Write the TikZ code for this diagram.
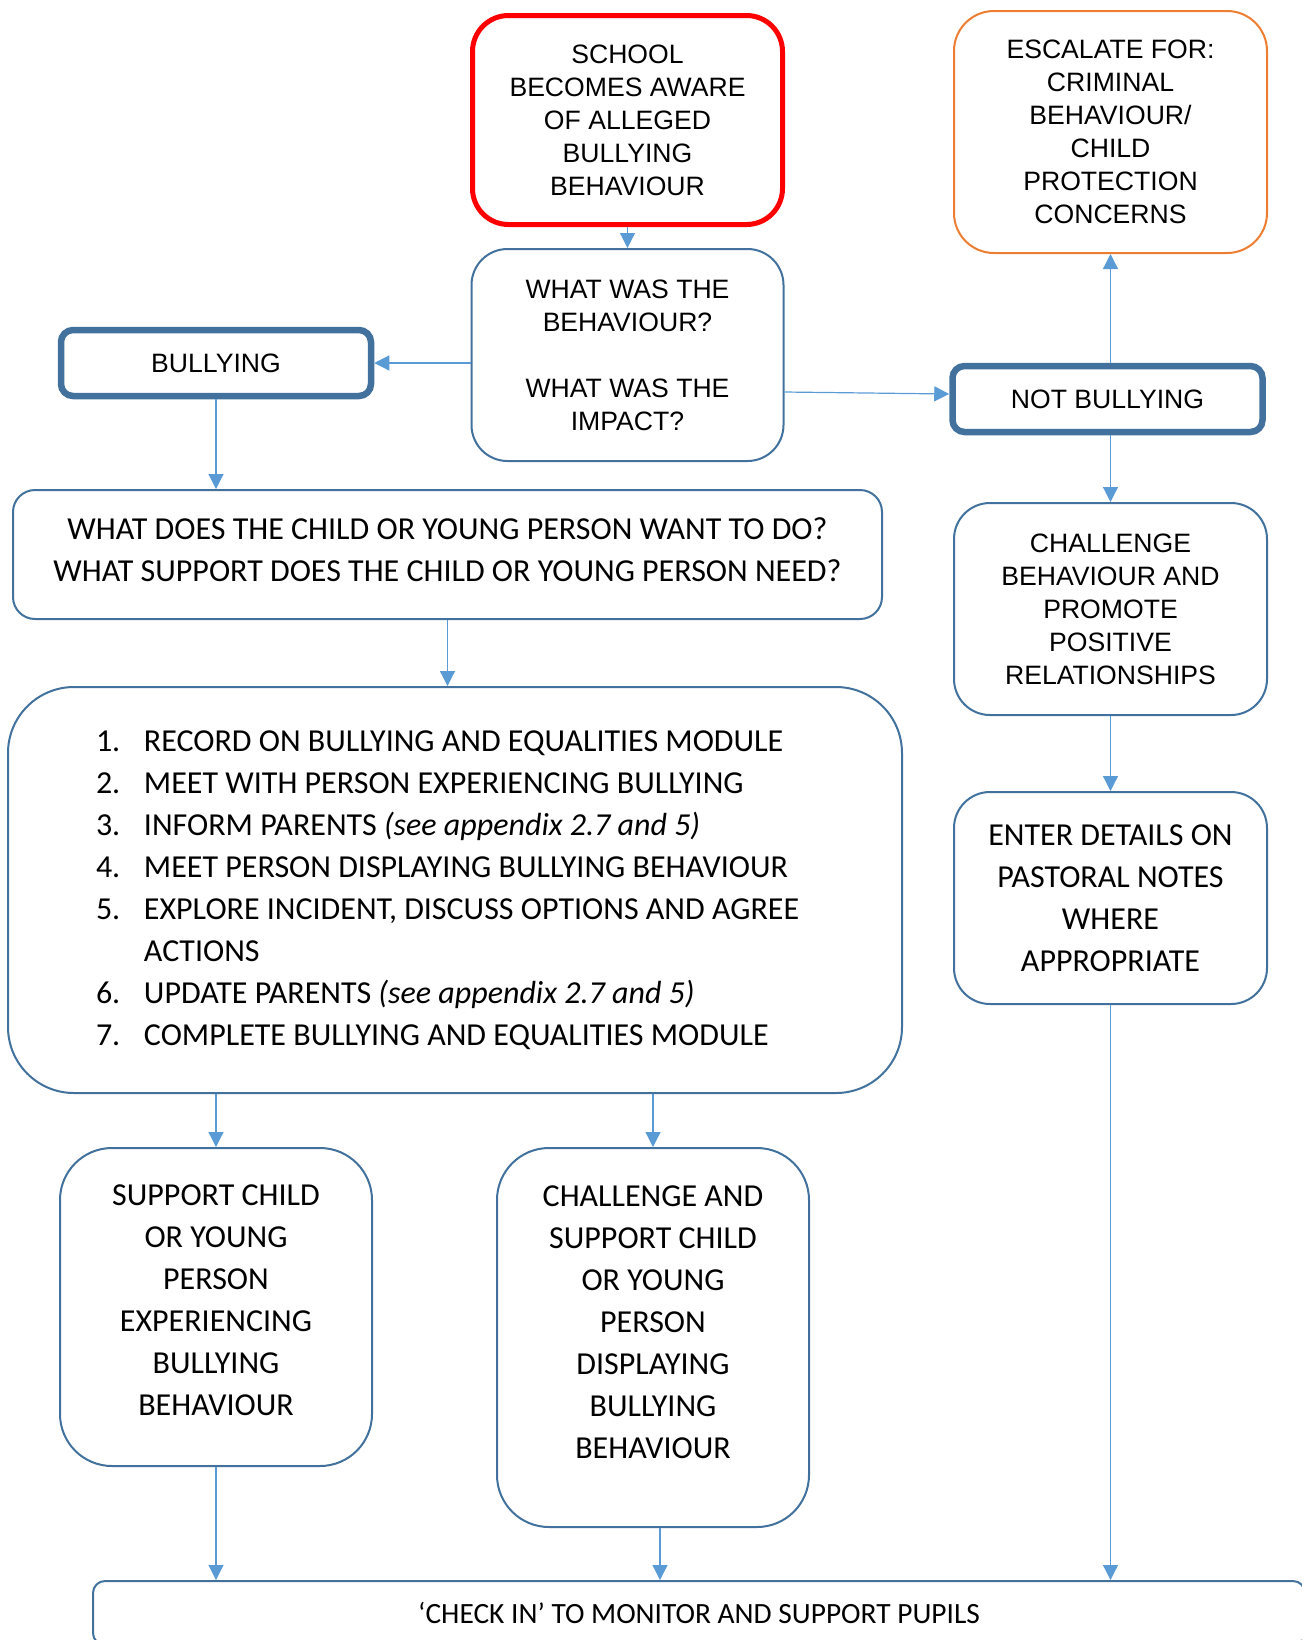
\documentclass[tikz,border=0pt]{standalone}
\usepackage{fontspec}
\setmainfont{Carlito}
\newfontfamily\arialfont{Liberation Sans}
\usetikzlibrary{arrows.meta,positioning}

\definecolor{boxblue}{HTML}{41719C}
\definecolor{arrowblue}{HTML}{5B9BD5}
\definecolor{alertred}{HTML}{FF0000}
\definecolor{escorange}{HTML}{ED7D31}

\begin{document}
\begin{tikzpicture}[
        x=0.5pt, y=-0.5pt,
        arialbox/.style={rectangle, draw=boxblue, line width=1pt, align=center, font=\arialfont\fontsize{13.3}{16.5}\selectfont},
        calbox/.style={rectangle, draw=boxblue, line width=1pt, align=center, font=\fontsize{16}{21}\selectfont},
        keybox/.style={arialbox, line width=3.25pt, rounded corners=6pt, minimum width=155pt, minimum height=33pt},
        arrow/.style={-{Triangle[length=7.5pt, width=7.5pt]}, line width=0.6pt, draw=arrowblue}
    ]
        \useasboundingbox (0,0) rectangle (1302,1640);

        % Start and decision
        \node[arialbox, draw=alertred, line width=2.5pt, rounded corners=18pt, minimum width=155pt, minimum height=104.5pt] (school) at (627.5,120) {SCHOOL\\BECOMES AWARE\\OF ALLEGED\\BULLYING\\BEHAVIOUR};
        \node[arialbox, rounded corners=18pt, minimum width=156pt, minimum height=106pt, below=10.5pt of school] (what) {WHAT WAS THE\\BEHAVIOUR?\\[16.5pt]WHAT WAS THE\\IMPACT?};
        \node[keybox] (bullying) at (216,363) {BULLYING};
        \node[keybox] (notbullying) at (1107.5,399) {NOT BULLYING};

        % Not bullying branch
        \node[arialbox, draw=escorange, rounded corners=20pt, minimum width=156.5pt, minimum height=121pt] (escalate) at (1110.5,132) {ESCALATE FOR:\\CRIMINAL\\BEHAVIOUR/\\CHILD\\PROTECTION\\CONCERNS};
        \node[arialbox, rounded corners=18pt, minimum width=156.5pt, minimum height=106pt] (challenge) at (1110.5,609) {CHALLENGE\\BEHAVIOUR AND\\PROMOTE\\POSITIVE\\RELATIONSHIPS};
        \node[calbox, rounded corners=18pt, minimum width=156.5pt, minimum height=106pt, below=37.5pt of challenge] (pastoral) {ENTER DETAILS ON\\PASTORAL NOTES\\WHERE\\APPROPRIATE};

        % Bullying branch
        \node[calbox, rounded corners=11pt, minimum width=434.5pt, minimum height=64.5pt] (want) at (447.5,554.5) {WHAT DOES THE CHILD OR YOUNG PERSON WANT TO DO?\\WHAT SUPPORT DOES THE CHILD OR YOUNG PERSON NEED?\\[-15.8pt]\mbox{}};
        \node[calbox, align=flush left, text width=359pt, rounded corners=33pt, minimum width=447pt, minimum height=203pt] (steps) at (455,890) {%
            \makebox[24pt][l]{1.}RECORD ON BULLYING AND EQUALITIES MODULE\\
            \makebox[24pt][l]{2.}MEET WITH PERSON EXPERIENCING BULLYING\\
            \makebox[24pt][l]{3.}INFORM PARENTS \textit{(see appendix 2.7 and 5)}\\
            \makebox[24pt][l]{4.}MEET PERSON DISPLAYING BULLYING BEHAVIOUR\\
            \makebox[24pt][l]{5.}EXPLORE INCIDENT, DISCUSS OPTIONS AND AGREE\\
            \makebox[24pt][l]{}ACTIONS\\
            \makebox[24pt][l]{6.}UPDATE PARENTS \textit{(see appendix 2.7 and 5)}\\
            \makebox[24pt][l]{7.}COMPLETE BULLYING AND EQUALITIES MODULE};
        \node[calbox, rounded corners=26pt, minimum width=156pt, minimum height=159pt] (victim) at (216,1307) {SUPPORT CHILD\\OR YOUNG\\PERSON\\EXPERIENCING\\BULLYING\\BEHAVIOUR\\[-13.7pt]\mbox{}};
        \node[calbox, rounded corners=26pt, minimum width=156pt, minimum height=189.5pt] (bully) at (653,1337.5) {CHALLENGE AND\\SUPPORT CHILD\\OR YOUNG\\PERSON\\DISPLAYING\\BULLYING\\BEHAVIOUR\\[-5.3pt]\mbox{}};

        % Follow-up
        \node[calbox, font=\fontsize{14.7}{19}\selectfont, rounded corners=6pt, minimum width=606pt, minimum height=32pt] (checkin) at (699,1613) {‘CHECK IN’ TO MONITOR AND SUPPORT PUPILS};

        % Connections
        \draw[arrow] (school) -- (what);
        \draw[arrow] (what.west |- bullying) -- (bullying);
        \draw[arrow] ([yshift=-18.5pt]what.east) -- ([yshift=2.5pt]notbullying.west);
        \draw[arrow] (escalate.south |- notbullying.north) -- (escalate.south);
        \draw[arrow] (challenge.north |- notbullying.south) -- (challenge.north);
        \draw[arrow] (challenge) -- (pastoral);
        \draw[arrow] (bullying.south) -- (bullying.south |- want.north);
        \draw[arrow] (want.south) -- (want.south |- steps.north);
        \draw[arrow] (victim.north |- steps.south) -- (victim.north);
        \draw[arrow] (bully.north |- steps.south) -- (bully.north);
        \draw[arrow] (victim.south) -- (victim.south |- checkin.north);
        \draw[arrow] ([xshift=3.5pt]bully.south) -- ([xshift=3.5pt]bully.south |- checkin.north);
        \draw[arrow] (pastoral.south) -- (pastoral.south |- checkin.north);
    \end{tikzpicture}
\end{document}
